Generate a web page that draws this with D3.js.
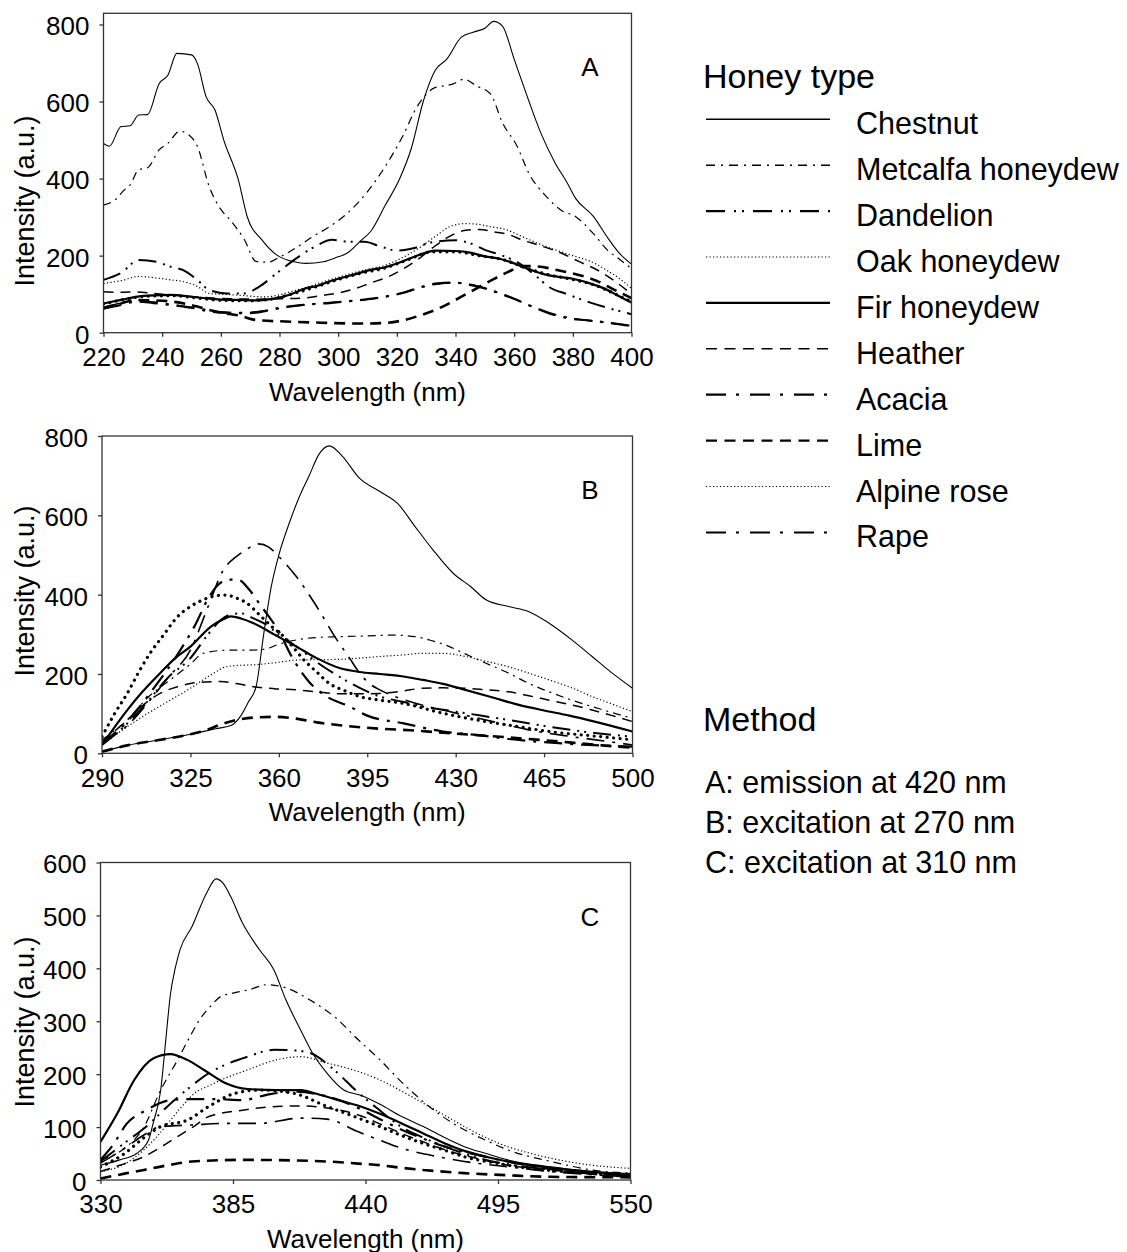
<!DOCTYPE html>
<html>
<head>
<meta charset="utf-8">
<script src="https://cdn.jsdelivr.net/npm/d3@7"></script>
<style>
  body { margin: 0; background: #fff; }
  svg { display: block; font-family: 'Liberation Sans', Arial, sans-serif; }
</style>
</head>
<body>
<svg id="chart" width="1127" height="1252"></svg>
<script>
'use strict'

const honeyTypes = ['Chestnut', 'Metcalfa honeydew', 'Dandelion', 'Oak honeydew', 'Fir honeydew',
  'Heather', 'Acacia', 'Lime', 'Alpine rose', 'Rape']
const methods = ['A: emission at 420 nm', 'B: excitation at 270 nm', 'C: excitation at 310 nm']

const xTicksA = [220, 240, 260, 280, 300, 320, 340, 360, 380, 400]
const xTicksB = [290, 325, 360, 395, 430, 465, 500]
const xTicksC = [330, 385, 440, 495, 550]
const yTicksAB = [0, 200, 400, 600, 800]
const yTicksC = [0, 100, 200, 300, 400, 500, 600]

// [wavelength nm, intensity a.u.] per honey type, same order as honeyTypes
const spectraA = [
  [[220, 491], [222, 484], [226, 535], [229, 537], [232, 565], [235, 566], [239, 647], [242, 669], [245, 725], [250, 721], [252, 699], [255, 612], [258, 578], [261, 500], [266, 396], [269, 301], [274, 241], [279, 202], [285, 184], [289, 180], [295, 184], [300, 197], [303, 206], [308, 241], [311, 262], [316, 330], [321, 400], [325, 480], [329, 600], [333, 680], [337, 710], [342, 767], [346, 780], [350, 790], [353, 808], [356, 796], [360, 710], [364, 623], [369, 520], [374, 440], [378, 390], [381, 348], [387, 302], [392, 245], [396, 205], [400, 178]],
  [[220, 331], [224, 345], [227, 370], [229, 383], [232, 423], [235, 428], [239, 475], [242, 492], [246, 523], [249, 514], [252, 484], [256, 380], [260, 320], [263, 294], [268, 242], [272, 185], [276, 183], [280, 196], [286, 222], [291, 248], [297, 275], [303, 309], [310, 366], [316, 431], [322, 510], [327, 588], [333, 636], [339, 645], [343, 658], [347, 641], [352, 619], [356, 545], [361, 484], [365, 414], [371, 353], [376, 318], [381, 301], [387, 257], [392, 213], [396, 190], [400, 166]],
  [[220, 137], [226, 155], [232, 189], [238, 184], [243, 171], [247, 163], [252, 137], [256, 111], [262, 102], [268, 102], [273, 119], [279, 154], [285, 189], [292, 223], [298, 241], [304, 236], [309, 236], [314, 225], [320, 213], [326, 220], [332, 235], [340, 240], [345, 232], [350, 215], [356, 200], [362, 179], [367, 150], [372, 118], [378, 100], [386, 78], [393, 62], [400, 48]],
  [[220, 128], [226, 135], [232, 146], [238, 142], [243, 137], [247, 133], [252, 120], [256, 102], [265, 98], [275, 93], [286, 111], [297, 137], [309, 163], [316, 175], [322, 195], [328, 222], [334, 255], [338, 275], [343, 283], [347, 282], [352, 275], [357, 268], [362, 252], [368, 232], [374, 215], [380, 200], [386, 185], [392, 160], [396, 140], [400, 115]],
  [[220, 76], [226, 85], [231, 93], [237, 97], [243, 98], [249, 94], [254, 90], [260, 86], [266, 85], [272, 84], [277, 87], [281, 93], [285, 103], [288, 113], [293, 122], [297, 133], [301, 142], [305, 150], [311, 163], [316, 170], [322, 185], [328, 203], [333, 213], [340, 212], [345, 208], [350, 198], [355, 192], [360, 180], [365, 165], [370, 152], [375, 145], [380, 140], [385, 130], [390, 117], [395, 98], [400, 78]],
  [[220, 106], [226, 105], [231, 106], [237, 102], [243, 98], [250, 94], [257, 90], [265, 88], [272, 87], [280, 88], [288, 90], [294, 96], [300, 103], [306, 115], [311, 129], [317, 145], [322, 165], [328, 195], [333, 225], [338, 250], [343, 265], [348, 268], [353, 262], [358, 255], [363, 240], [368, 228], [375, 210], [382, 185], [389, 160], [395, 130], [400, 100]],
  [[220, 63], [226, 72], [231, 81], [237, 77], [243, 72], [247, 68], [252, 62], [256, 55], [263, 51], [270, 51], [275, 56], [279, 63], [288, 72], [297, 77], [304, 82], [309, 86], [315, 92], [322, 103], [328, 118], [334, 128], [340, 130], [345, 124], [350, 115], [355, 102], [360, 88], [366, 68], [372, 50], [378, 38], [385, 32], [392, 26], [400, 17]],
  [[220, 63], [226, 76], [231, 85], [237, 84], [243, 81], [248, 75], [252, 68], [256, 59], [260, 52], [266, 45], [272, 33], [282, 29], [294, 26], [305, 24], [311, 24], [317, 26], [322, 32], [328, 45], [334, 62], [340, 85], [346, 110], [352, 135], [358, 158], [363, 173], [368, 172], [375, 162], [382, 150], [388, 135], [394, 112], [400, 90]],
  [[220, 74], [228, 88], [236, 95], [244, 96], [252, 90], [260, 84], [268, 83], [276, 86], [284, 100], [292, 118], [300, 138], [308, 155], [316, 168], [324, 190], [332, 210], [340, 210], [348, 200], [356, 190], [364, 168], [372, 150], [380, 138], [388, 122], [394, 102], [400, 80]],
  [[220, 66], [228, 78], [236, 80], [244, 72], [252, 64], [260, 54], [268, 52], [276, 58], [284, 68], [292, 75], [300, 80], [308, 85], [316, 94], [324, 108], [332, 124], [340, 130], [348, 120], [356, 100], [364, 75], [372, 52], [380, 37], [390, 28], [400, 18]]
]

const spectraB = [
  [[290, 4], [300, 20], [312, 33], [325, 48], [335, 62], [341, 70], [345, 95], [348, 130], [351, 168], [354, 300], [357, 420], [360, 500], [364, 578], [368, 645], [372, 700], [376, 755], [380, 775], [385, 750], [392, 693], [400, 660], [407, 630], [414, 571], [421, 513], [429, 454], [436, 420], [442, 387], [451, 370], [459, 357], [467, 328], [476, 286], [484, 244], [492, 202], [500, 164]],
  [[290, 34], [300, 84], [308, 140], [317, 185], [325, 225], [330, 252], [340, 260], [348, 260], [354, 262], [360, 275], [367, 286], [375, 292], [384, 294], [395, 296], [405, 298], [414, 294], [420, 285], [426, 273], [434, 250], [442, 227], [450, 205], [459, 176], [467, 155], [476, 134], [488, 110], [500, 88]],
  [[290, 21], [300, 75], [308, 130], [316, 190], [325, 240], [332, 300], [337, 336], [341, 350], [345, 353], [350, 340], [354, 328], [360, 300], [367, 269], [375, 230], [384, 193], [392, 165], [400, 143], [409, 130], [417, 118], [425, 110], [434, 101], [450, 85], [467, 67], [484, 52], [500, 42]],
  [[290, 21], [300, 67], [308, 100], [317, 134], [324, 160], [330, 185], [335, 205], [339, 218], [345, 222], [350, 223], [358, 228], [367, 235], [375, 236], [384, 237], [392, 240], [400, 244], [409, 248], [417, 252], [425, 252], [434, 244], [442, 232], [451, 218], [459, 202], [467, 185], [476, 165], [484, 143], [492, 124], [500, 105]],
  [[290, 21], [300, 109], [306, 155], [313, 202], [319, 240], [325, 269], [333, 319], [338, 338], [341, 345], [345, 340], [350, 328], [358, 300], [367, 269], [375, 240], [384, 215], [392, 205], [400, 200], [410, 193], [417, 185], [425, 175], [432, 163], [445, 140], [455, 122], [465, 108], [475, 95], [485, 80], [500, 55]],
  [[290, 29], [300, 84], [306, 120], [313, 151], [320, 168], [325, 176], [331, 180], [337, 181], [343, 176], [350, 168], [358, 163], [367, 160], [375, 155], [384, 150], [392, 150], [400, 151], [409, 157], [417, 164], [425, 165], [434, 164], [442, 160], [451, 155], [459, 145], [467, 134], [476, 122], [484, 109], [492, 95], [500, 80]],
  [[290, 25], [300, 80], [310, 160], [320, 250], [327, 325], [332, 390], [336, 425], [340, 438], [344, 437], [348, 415], [352, 380], [356, 345], [360, 308], [365, 245], [372, 180], [379, 143], [388, 118], [395, 95], [409, 76], [425, 55], [440, 45], [451, 36], [465, 28], [480, 22], [500, 17]],
  [[290, 4], [300, 20], [312, 33], [325, 48], [332, 60], [337, 73], [342, 82], [350, 90], [358, 92], [366, 88], [375, 78], [385, 70], [400, 62], [412, 58], [425, 52], [440, 45], [451, 40], [465, 33], [476, 27], [488, 20], [500, 14]],
  [[290, 42], [295, 100], [300, 151], [305, 210], [309, 252], [314, 295], [320, 345], [325, 370], [330, 387], [335, 397], [339, 399], [343, 392], [347, 380], [353, 345], [358, 315], [362, 294], [366, 265], [370, 235], [375, 205], [380, 176], [386, 158], [392, 143], [400, 134], [409, 126], [425, 101], [442, 80], [455, 67], [467, 55], [484, 44], [500, 34]],
  [[290, 30], [300, 70], [308, 126], [316, 190], [325, 260], [332, 370], [338, 462], [343, 495], [347, 513], [352, 528], [356, 520], [360, 496], [367, 445], [375, 370], [383, 286], [388, 240], [392, 202], [396, 175], [400, 160], [410, 134], [425, 109], [442, 84], [459, 59], [476, 42], [490, 30], [500, 21]]
]

const spectraC = [
  [[330, 28], [338, 38], [345, 50], [350, 76], [352, 110], [355, 170], [357, 260], [359, 350], [361, 400], [363, 435], [368, 479], [374, 542], [378, 569], [381, 560], [384, 536], [389, 485], [396, 435], [402, 397], [407, 340], [413, 284], [418, 240], [424, 202], [431, 170], [438, 160], [446, 143], [455, 120], [464, 101], [472, 82], [481, 63], [490, 50], [499, 38], [508, 30], [517, 25], [534, 16], [550, 12]],
  [[330, 38], [340, 60], [348, 100], [355, 170], [362, 227], [367, 270], [371, 302], [376, 330], [380, 347], [385, 353], [392, 360], [399, 369], [407, 363], [417, 340], [427, 309], [437, 265], [446, 227], [455, 185], [464, 148], [472, 120], [481, 95], [490, 75], [499, 57], [517, 35], [534, 19], [550, 13]],
  [[330, 35], [340, 70], [350, 105], [358, 140], [367, 175], [375, 202], [383, 220], [391, 233], [402, 246], [410, 245], [417, 240], [427, 208], [437, 165], [445, 135], [455, 100], [464, 80], [473, 63], [481, 50], [490, 38], [499, 30], [517, 19], [534, 12], [550, 9]],
  [[330, 16], [340, 30], [348, 57], [354, 85], [359, 113], [364, 140], [369, 164], [375, 178], [380, 189], [391, 208], [403, 227], [413, 233], [424, 221], [437, 205], [446, 189], [455, 168], [464, 145], [473, 122], [481, 101], [490, 80], [499, 63], [508, 51], [517, 41], [534, 28], [550, 22]],
  [[330, 72], [337, 126], [344, 189], [352, 230], [359, 238], [366, 227], [373, 208], [382, 183], [391, 172], [403, 170], [413, 170], [421, 161], [431, 148], [438, 139], [446, 125], [455, 107], [464, 88], [473, 69], [481, 55], [490, 44], [499, 35], [508, 28], [525, 19], [550, 9]],
  [[330, 16], [338, 28], [348, 44], [355, 62], [362, 82], [369, 102], [375, 120], [389, 132], [403, 139], [413, 140], [424, 136], [437, 123], [446, 106], [455, 88], [464, 72], [473, 57], [486, 41], [499, 28], [517, 19], [534, 13], [550, 9]],
  [[330, 38], [335, 65], [341, 107], [349, 132], [359, 151], [368, 153], [378, 153], [389, 151], [399, 161], [410, 167], [424, 158], [437, 136], [446, 115], [455, 95], [464, 78], [473, 63], [486, 48], [499, 35], [512, 24], [525, 16], [538, 10], [550, 6]],
  [[330, 3], [340, 12], [348, 19], [358, 28], [368, 35], [389, 38], [410, 37], [424, 35], [437, 31], [446, 28], [455, 23], [464, 19], [481, 13], [499, 9], [517, 6], [550, 5]],
  [[330, 25], [340, 50], [348, 80], [355, 101], [366, 113], [375, 139], [386, 164], [396, 170], [410, 164], [424, 139], [437, 117], [446, 101], [455, 84], [464, 69], [473, 56], [481, 44], [494, 32], [508, 22], [525, 15], [550, 9]],
  [[330, 32], [340, 60], [348, 85], [355, 101], [368, 104], [382, 107], [396, 107], [413, 117], [424, 115], [437, 91], [446, 75], [455, 60], [468, 46], [481, 35], [499, 25], [517, 16], [534, 10], [550, 6]]
]

// line styles, same order as honeyTypes
const lineWidths = [1.1, 1.2, 2, 1.2, 2.2, 1.5, 2.2, 2.6, 3.2, 1.6]
const lineDashes = [null, '8,5,2,5', '18,7,2,5,2,7', '1.2,2.3', null, '10,7', '18,8,3,8', '11,7', '0.01,6.5', '18,8,3,8']
const legendWidths = [1.6, 1.4, 2.2, 1.2, 2.4, 1.6, 2.2, 2.4, 1.2, 2]
const legendDashes = [null, '9,6,2,6', '19,9,2,6,2,9', '1.2,2.3', null, '11,7.5', '20,10,3,11', '11,7.5', '1.2,2.3', '20,10,3,11']

const panels = [
  { letter: 'A', spectra: spectraA, xDomain: [220, 400], xTicks: xTicksA, yDomain: [0, 829], yTicks: yTicksAB,
    left: 103.5, right: 631.5, top: 13.3, bottom: 332.7, yLabelCenter: 201 },
  { letter: 'B', spectra: spectraB, xDomain: [290, 500], xTicks: xTicksB, yDomain: [0, 800], yTicks: yTicksAB,
    left: 102, right: 632.5, top: 436, bottom: 753.3, yLabelCenter: 591 },
  { letter: 'C', spectra: spectraC, xDomain: [330, 550], xTicks: xTicksC, yDomain: [0, 600], yTicks: yTicksC,
    left: 100.5, right: 630.5, top: 862.5, bottom: 1180, yLabelCenter: 1022 }
]

const svg = d3.select('#chart')
svg.append('rect').attr('width', 1127).attr('height', 1252).attr('fill', '#fff')

panels.forEach((p, pi) => {
  const x = d3.scaleLinear().domain(p.xDomain).range([p.left, p.right])
  const y = d3.scaleLinear().domain(p.yDomain).range([p.bottom, p.top])

  const clipId = `clip-${pi}`
  svg.append('clipPath').attr('id', clipId)
    .append('rect')
    .attr('x', p.left).attr('y', p.top)
    .attr('width', p.right - p.left).attr('height', p.bottom - p.top)

  const line = d3.line()
    .x((d) => x(d[0]))
    .y((d) => y(d[1]))
    .curve(d3.curveMonotoneX)

  const g = svg.append('g').attr('clip-path', `url(#${clipId})`)
  g.selectAll('path')
    .data(p.spectra)
    .join('path')
    .attr('d', line)
    .attr('fill', 'none')
    .attr('stroke', '#000')
    .attr('stroke-width', (d, i) => lineWidths[i])
    .attr('stroke-dasharray', (d, i) => lineDashes[i])
    .attr('stroke-linecap', (d, i) => (i === 8 ? 'round' : 'butt'))
    .attr('stroke-linejoin', 'round')

  // frame
  svg.append('rect')
    .attr('x', p.left).attr('y', p.top)
    .attr('width', p.right - p.left).attr('height', p.bottom - p.top)
    .attr('fill', 'none')
    .attr('stroke', '#333')
    .attr('stroke-width', 1.3)

  const xAxis = svg.append('g')
    .attr('transform', `translate(0, ${p.bottom})`)
    .call(d3.axisBottom(x).tickValues(p.xTicks).tickSize(4).tickSizeOuter(0).tickPadding(11))
  const yAxis = svg.append('g')
    .attr('transform', `translate(${p.left}, 0)`)
    .call(d3.axisLeft(y).tickValues(p.yTicks).tickSize(4).tickSizeOuter(0).tickPadding(10))

  ;[xAxis, yAxis].forEach((a) => {
    a.select('.domain').remove()
    a.selectAll('line').attr('stroke', '#333').attr('stroke-width', 1.3)
    a.selectAll('text')
      .attr('font-family', "'Liberation Sans', Arial, sans-serif")
      .attr('font-size', 26)
      .attr('fill', '#000')
  })
  yAxis.selectAll('text').attr('dy', '0.4em')

  svg.append('text')
    .attr('x', (p.left + p.right) / 2)
    .attr('y', p.bottom + 68)
    .attr('text-anchor', 'middle')
    .attr('font-size', 26)
    .text('Wavelength (nm)')

  svg.append('text')
    .attr('transform', `translate(34, ${p.yLabelCenter}) rotate(-90)`)
    .attr('text-anchor', 'middle')
    .attr('font-size', 27)
    .text('Intensity (a.u.)')

  svg.append('text')
    .attr('x', 590)
    .attr('y', p.top + 63)
    .attr('text-anchor', 'middle')
    .attr('font-size', 26)
    .text(p.letter)
})

// legend
const legend = svg.append('g')
legend.append('text')
  .attr('x', 703).attr('y', 88)
  .attr('font-size', 34)
  .text('Honey type')

const rowY = (i) => 119.3 + i * 45.9
const rows = legend.selectAll('g.row')
  .data(honeyTypes)
  .join('g')
  .attr('class', 'row')
  .attr('transform', (d, i) => `translate(0, ${rowY(i)})`)

rows.append('line')
  .attr('x1', 706).attr('x2', 830)
  .attr('stroke', '#000')
  .attr('stroke-width', (d, i) => legendWidths[i])
  .attr('stroke-dasharray', (d, i) => legendDashes[i])

rows.append('text')
  .attr('x', 856).attr('y', 15)
  .attr('font-size', 30.5)
  .text((d) => d)

legend.append('text')
  .attr('x', 703).attr('y', 731)
  .attr('font-size', 34)
  .text('Method')

legend.selectAll('text.method')
  .data(methods)
  .join('text')
  .attr('class', 'method')
  .attr('x', 705)
  .attr('y', (d, i) => 793 + i * 40)
  .attr('font-size', 30.5)
  .text((d) => d)
</script>
</body>
</html>
